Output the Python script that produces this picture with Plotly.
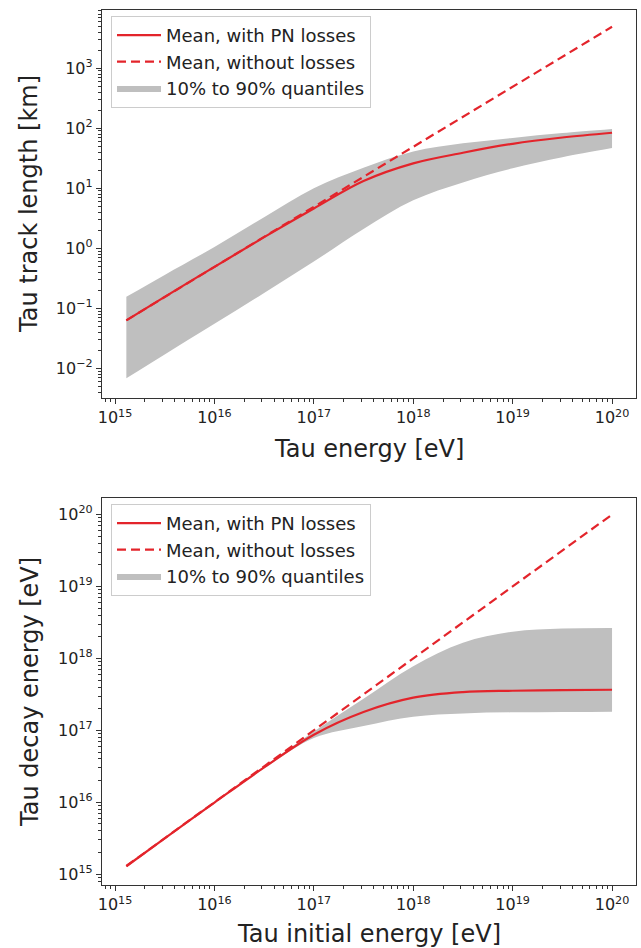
import plotly.graph_objects as go

# ---------------- data ----------------
energy_ev = [1.3e15, 3.16e15, 1.0e16, 3.16e16, 1.0e17, 3.16e17,
             1.0e18, 3.16e18, 1.0e19, 3.16e19, 1.0e20]

# top panel: tau track length [km]
track_mean_pn = [0.063, 0.155, 0.49, 1.53, 4.6, 13.2, 26, 39, 55, 70, 84]
track_mean_noloss = [0.063, 0.155, 0.49, 1.55, 4.9, 15.5, 49, 155, 490, 1550, 4900]
track_q10 = [0.0068, 0.017, 0.055, 0.18, 0.6, 2.1, 6.3, 12.5, 21.5, 33, 47]
track_q90 = [0.155, 0.36, 1.05, 3.3, 10, 22, 41, 56, 69, 83, 97]

# bottom panel: tau decay energy [eV]
decay_mean_pn = [1.29e15, 3.15e15, 9.9e15, 3.05e16, 8.7e16, 1.8e17,
                 2.85e17, 3.4e17, 3.55e17, 3.63e17, 3.67e17]
decay_mean_noloss = [1.3e15, 3.16e15, 1.0e16, 3.16e16, 1.0e17, 3.16e17,
                     1.0e18, 3.16e18, 1.0e19, 3.16e19, 1.0e20]
decay_q10 = [1.28e15, 3.13e15, 9.8e15, 2.95e16, 7.8e16, 1.15e17,
             1.55e17, 1.72e17, 1.78e17, 1.8e17, 1.82e17]
decay_q90 = [1.3e15, 3.17e15, 1.0e16, 3.15e16, 9.6e16, 2.75e17,
             7.8e17, 1.65e18, 2.35e18, 2.6e18, 2.65e18]

legend_labels = ["Mean, with PN losses", "Mean, without losses", "10% to 90% quantiles"]

# tick positions / labels
energy_tickvals = [1e15, 1e16, 1e17, 1e18, 1e19, 1e20]
energy_ticktext = ["10<sup>15</sup>", "10<sup>16</sup>", "10<sup>17</sup>",
                   "10<sup>18</sup>", "10<sup>19</sup>", "10<sup>20</sup>"]
length_tickvals = [1e-2, 1e-1, 1e0, 1e1, 1e2, 1e3]
length_ticktext = ["10<sup>\u22122</sup>", "10<sup>\u22121</sup>", "10<sup>0</sup>",
                   "10<sup>1</sup>", "10<sup>2</sup>", "10<sup>3</sup>"]

# ---------------- style ----------------
RED = "#e3242b"
GRAY = "#bfbfbf"
FONT = "DejaVu Sans"
INK = "#222222"
W, H = 641, 948

fig = go.Figure()


def add_panel(xa, ya, legend, q10, q90, mean, noloss):
    fig.add_trace(go.Scatter(x=energy_ev, y=q10, xaxis=xa, yaxis=ya, mode="lines",
                             line=dict(width=0, shape="spline", color=GRAY),
                             showlegend=False, hoverinfo="skip", legend=legend))
    fig.add_trace(go.Scatter(x=energy_ev, y=q90, xaxis=xa, yaxis=ya, mode="lines",
                             fill="tonexty", fillcolor=GRAY,
                             line=dict(width=0, shape="spline", color=GRAY),
                             name=legend_labels[2], legend=legend, legendrank=3))
    fig.add_trace(go.Scatter(x=energy_ev, y=mean, xaxis=xa, yaxis=ya, mode="lines",
                             line=dict(color=RED, width=2.2, shape="spline"),
                             name=legend_labels[0], legend=legend, legendrank=1))
    fig.add_trace(go.Scatter(x=energy_ev, y=noloss, xaxis=xa, yaxis=ya, mode="lines",
                             line=dict(color=RED, width=2.2, dash="9px,5px"),
                             name=legend_labels[1], legend=legend, legendrank=2))


add_panel("x", "y", "legend", track_q10, track_q90, track_mean_pn, track_mean_noloss)
add_panel("x2", "y2", "legend2", decay_q10, decay_q90, decay_mean_pn, decay_mean_noloss)


def px_x(p):
    return p / W


def px_y(p):
    return 1 - p / H


axis_common = dict(
    type="log", showline=True, linecolor="#333333", linewidth=1.3, mirror=True,
    ticks="outside", ticklen=5, tickwidth=1.2, tickcolor="#333333",
    showgrid=False, zeroline=False, automargin=False,
    tickfont=dict(family=FONT, size=16, color=INK),
    minor=dict(ticks="outside", ticklen=3, tickwidth=0.9, tickcolor="#333333",
               dtick="D1", showgrid=False),
)
x_ticks = dict(tickmode="array", tickvals=energy_tickvals, ticktext=energy_ticktext)

xdom = [px_x(102), px_x(636)]
legend_common = dict(xanchor="left", yanchor="top", bgcolor="rgba(255,255,255,0.85)",
                     bordercolor="#cccccc", borderwidth=1, traceorder="normal",
                     font=dict(family=FONT, size=18, color=INK), itemwidth=44,
                     tracegroupgap=0)

fig.update_layout(
    width=W, height=H, template="none",
    margin=dict(l=0, r=0, t=0, b=0, pad=0),
    paper_bgcolor="white", plot_bgcolor="white",
    font=dict(family=FONT, color=INK),
    xaxis=dict(axis_common, **x_ticks, domain=xdom, range=[14.869, 20.241], anchor="y"),
    yaxis=dict(axis_common, tickmode="array", tickvals=length_tickvals, ticktext=length_ticktext,
               domain=[px_y(398), px_y(10)], range=[-2.495, 3.97], anchor="x"),
    xaxis2=dict(axis_common, **x_ticks, domain=xdom, range=[14.869, 20.241], anchor="y2"),
    yaxis2=dict(axis_common, tickmode="array", tickvals=energy_tickvals, ticktext=energy_ticktext,
                domain=[px_y(885), px_y(498)], range=[14.85, 20.23], anchor="x2"),
    legend=dict(legend_common, x=px_x(111), y=px_y(16)),
    legend2=dict(legend_common, x=px_x(111), y=px_y(504)),
    showlegend=True,
)

title_font = dict(family=FONT, size=24, color=INK)
fig.add_annotation(text="Tau track length [km]", x=px_x(29), y=px_y(204), xref="paper", yref="paper",
                   textangle=-90, showarrow=False, font=title_font, xanchor="center", yanchor="middle")
fig.add_annotation(text="Tau energy [eV]", x=px_x(369), y=px_y(449), xref="paper", yref="paper",
                   showarrow=False, font=title_font, xanchor="center", yanchor="middle")
fig.add_annotation(text="Tau decay energy [eV]", x=px_x(30), y=px_y(692), xref="paper", yref="paper",
                   textangle=-90, showarrow=False, font=title_font, xanchor="center", yanchor="middle")
fig.add_annotation(text="Tau initial energy [eV]", x=px_x(369), y=px_y(934), xref="paper", yref="paper",
                   showarrow=False, font=title_font, xanchor="center", yanchor="middle")

fig.write_html("out.html", config={"displayModeBar": False},
               post_script="document.body.style.margin='0px';")
